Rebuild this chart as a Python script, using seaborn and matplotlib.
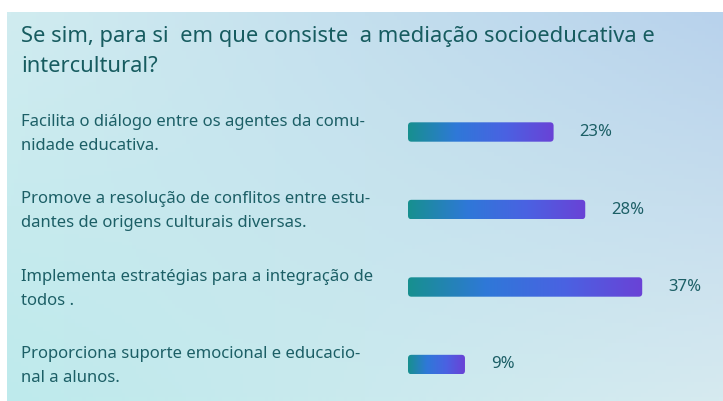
import numpy as np
import pandas as pd
import matplotlib
matplotlib.use("Agg")
import matplotlib.pyplot as plt
import seaborn as sns
from matplotlib.colors import LinearSegmentedColormap
from matplotlib.patches import FancyBboxPatch
from matplotlib.transforms import blended_transform_factory

# ---- data ----
title = "Se sim, para si  em que consiste  a mediação socioeducativa e\nintercultural?"
categories = [
    "Facilita o diálogo entre os agentes da comu-\nnidade educativa.",
    "Promove a resolução de conflitos entre estu-\ndantes de origens culturais diversas.",
    "Implementa estratégias para a integração de\ntodos .",
    "Proporciona suporte emocional e educacio-\nnal a alunos.",
]
values = [23, 28, 37, 9]
value_labels = ["23%", "28%", "37%", "9%"]

W, H, DPI = 723, 401, 100
text_color = "#1c5f66"

sns.set_theme(style="white")
plt.rcParams["font.family"] = ["Noto Sans", "DejaVu Sans"]

fig = plt.figure(figsize=(W / DPI, H / DPI), dpi=DPI)
fig.patch.set_facecolor("white")

# background panel with 4-corner gradient
bg = fig.add_axes([7 / W, 0, 1 - 7 / W, 1 - 12 / H])
bg.set_axis_off()
tl = np.array([208, 236, 240]) / 255
tr = np.array([184, 210, 236]) / 255
bl = np.array([190, 234, 236]) / 255
br = np.array([214, 234, 240]) / 255
ny, nx = 100, 200
u = np.linspace(0, 1, nx)[None, :, None]
v = np.linspace(0, 1, ny)[:, None, None]
img = (1 - v) * ((1 - u) * tl + u * tr) + v * ((1 - u) * bl + u * br)
bg.imshow(img, aspect="auto", extent=[0, 1, 0, 1], origin="upper")
bg.set_xlim(0, 1)
bg.set_ylim(0, 1)

# bar axes
left_px = 408
top_px = 93.25
unit_px = 77.5
px_per_pct = 6.33
ax = fig.add_axes([left_px / W, 0, 1 - left_px / W, 1 - top_px / H])
ax.patch.set_alpha(0)
df = pd.DataFrame({"cat": categories, "val": values})
sns.barplot(data=df, x="val", y="cat", orient="h", ax=ax, width=0.25,
            color="#3a6fe0", saturation=1)
xmax = (W - left_px) / px_per_pct
ax.set_xlim(0, xmax)
ybot = -0.5 + (H - top_px) / unit_px
ax.set_ylim(ybot, -0.5)
ax.set_axis_off()

cmap = LinearSegmentedColormap.from_list("g", ["#17908f", "#2f78d8", "#4a62e2", "#6a42d6"])
grad = np.linspace(0, 1, 256)[None, :]
pxx = px_per_pct
pxy = unit_px
r_px = 3.5
for p in list(ax.patches):
    x0, y0 = p.get_x(), p.get_y()
    w, h = p.get_width(), p.get_height()
    p.set_visible(False)
    fb = FancyBboxPatch((x0, y0), w, h,
                        boxstyle=f"round,pad=0,rounding_size={r_px / pxx}",
                        mutation_aspect=pxx / pxy,
                        transform=ax.transData, facecolor="none", edgecolor="none")
    ax.add_patch(fb)
    im = ax.imshow(grad, cmap=cmap, aspect="auto",
                   extent=[x0, x0 + w, y0 + h, y0], zorder=3)
    im.set_clip_path(fb)
ax.set_xlim(0, xmax)
ax.set_ylim(ybot, -0.5)

for i, (val, lab) in enumerate(zip(values, value_labels)):
    ax.annotate(lab, (val, i), xytext=(26, 0), textcoords="offset pixels",
                ha="left", va="center", fontsize=12, color=text_color)

# category labels
trans = blended_transform_factory(fig.transFigure, ax.transData)
for i, c in enumerate(categories):
    ax.text(21 / W, i + 0.02, c, transform=trans, ha="left", va="center",
            fontsize=12, color=text_color, linespacing=1.67)

# title (two lines, baselines at ~42 px and ~72 px)
for k, line in enumerate(title.split("\n")):
    fig.text(21 / W, 1 - (42 + 30 * k) / H, line, ha="left", va="baseline",
             fontsize=15.8, color="#175c60")

fig.savefig("out.png", dpi=DPI)
